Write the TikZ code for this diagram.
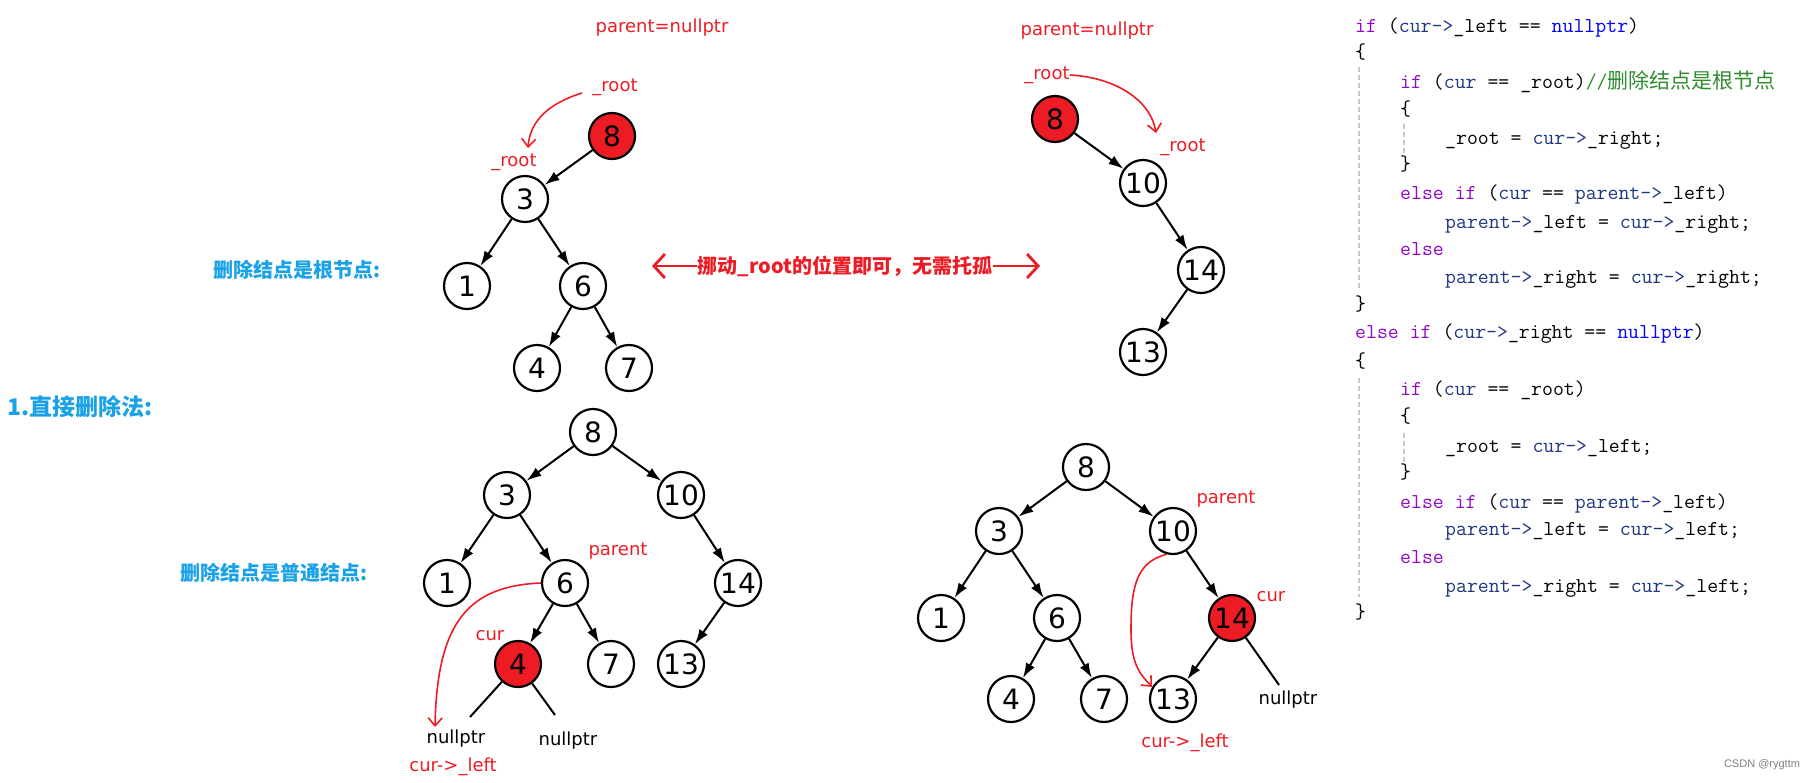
\documentclass[tikz,border=0pt]{standalone}
\usepackage{fontspec}
\setmainfont{DejaVu Sans}
\setsansfont{Liberation Sans}
\newfontfamily\cjk{Noto Sans CJK SC}
\usetikzlibrary{arrows.meta}
\definecolor{paintred}{HTML}{ED1C24}
\definecolor{paintblue}{HTML}{1AA1E6}
\definecolor{kwpurple}{HTML}{8F08C4}
\definecolor{varblue}{HTML}{1F377F}
\definecolor{cmtgreen}{HTML}{2E8B2E}
\definecolor{guidegray}{HTML}{C8C8C8}
\newcommand{\codekw}[1]{\textcolor{kwpurple}{#1}}
\newcommand{\codevar}[1]{\textcolor{varblue}{#1}}
\newcommand{\codenull}{\textcolor{blue}{nullptr}}
\newcommand{\codecmt}[1]{\textcolor{cmtgreen}{#1}}

\begin{document}
\begin{tikzpicture}
    [
        x=1pt, y=-1pt,
        tnode/.style={circle, draw, line width=2.2pt, minimum size=46pt, inner sep=0pt, fill=white, font=\fontsize{28}{28}\selectfont},
        delnode/.style={tnode, fill=paintred},
        tarrow/.style={line width=2pt, -{Latex[length=15pt,width=10pt]}},
        nullline/.style={line width=2pt},
        redlabel/.style={text=paintred, inner sep=0pt, font=\fontsize{18}{18}\selectfont},
        blacklabel/.style={inner sep=0pt, font=\fontsize{18}{18}\selectfont},
        bluetitle/.style={text=paintblue, inner sep=0pt, font=\fontsize{20}{20}\cjk\bfseries},
        movetext/.style={text=paintred, inner sep=1pt, font=\fontsize{20}{20}\cjk\bfseries},
        redcurve/.style={draw=paintred, line width=1.6pt, -{Straight Barb[length=8pt,width=14pt]}},
        movearrow/.style={draw=paintred, line width=2.8pt, -{Straight Barb[length=11pt,width=24pt]}},
        codeline/.style={anchor=west, inner sep=0pt, text height=14pt, text depth=4pt, font=\ttfamily\fontsize{21.2}{22}\selectfont},
        guide/.style={draw=guidegray, line width=1.4pt, dash pattern=on 5pt off 3pt}
    ]
        \useasboundingbox (0,0) rectangle (1814,782);

        \node[bluetitle, font=\fontsize{23}{23}\cjk\bfseries] (title) at (80,407) {1.直接删除法:};
        \node[bluetitle] (roottitle) at (297,270) {删除结点是根节点:};
        \node[bluetitle] (leaftitle) at (274,573) {删除结点是普通结点:};

        % root deleted, before
        \node[delnode] (a-8) at (612,136) {8};
        \node[tnode] (a-3) at (525,199) {3};
        \node[tnode] (a-1) at (467,286) {1};
        \node[tnode] (a-6) at (583,286) {6};
        \node[tnode] (a-4) at (537,368) {4};
        \node[tnode] (a-7) at (629,368) {7};
        \draw[tarrow] (a-8) -- (a-3);
        \draw[tarrow] (a-3) -- (a-1);
        \draw[tarrow] (a-3) -- (a-6);
        \draw[tarrow] (a-6) -- (a-4);
        \draw[tarrow] (a-6) -- (a-7);

        \node[redlabel] (a-parent) at (662,28) {parent=nullptr};
        \node[redlabel] (a-root1) at (615,87) {\_root};
        \node[redlabel] (a-root2) at (514,162) {\_root};
        \coordinate (a-from) at (582,93);
        \coordinate (a-to) at (528,148);
        \draw[redcurve] (a-from) .. controls (550,103) and (530,120) .. (a-to);

        % root deleted, other side
        \node[delnode] (b-8) at (1055,119) {8};
        \node[tnode] (b-10) at (1143,183) {10};
        \node[tnode] (b-14) at (1201,270) {14};
        \node[tnode] (b-13) at (1143,352) {13};
        \draw[tarrow] (b-8) -- (b-10);
        \draw[tarrow] (b-10) -- (b-14);
        \draw[tarrow] (b-14) -- (b-13);

        \node[redlabel] (b-parent) at (1087,31) {parent=nullptr};
        \node[redlabel] (b-root1) at (1047,75) {\_root};
        \node[redlabel] (b-root2) at (1183,147) {\_root};
        \coordinate (b-to) at (1156,133);
        \draw[redcurve] (b-root1.east) .. controls (1112,77) and (1150,98) .. (b-to);

        \node[movetext] (movetxt) at (845,266) {挪动\_root的位置即可，无需托孤};
        \coordinate (move-l) at (652,266);
        \coordinate (move-r) at (1040,266);
        \draw[movearrow] (movetxt.west) -- (move-l);
        \draw[movearrow] (movetxt.east) -- (move-r);

        % leaf deleted, left child
        \node[tnode] (c-8) at (593,432) {8};
        \node[tnode] (c-3) at (507,495) {3};
        \node[tnode] (c-10) at (681,495) {10};
        \node[tnode] (c-1) at (447,583) {1};
        \node[tnode] (c-6) at (565,583) {6};
        \node[tnode] (c-14) at (738,583) {14};
        \node[delnode] (c-4) at (518,664) {4};
        \node[tnode] (c-7) at (611,664) {7};
        \node[tnode] (c-13) at (681,664) {13};
        \draw[tarrow] (c-8) -- (c-3);
        \draw[tarrow] (c-8) -- (c-10);
        \draw[tarrow] (c-3) -- (c-1);
        \draw[tarrow] (c-3) -- (c-6);
        \draw[tarrow] (c-10) -- (c-14);
        \draw[tarrow] (c-6) -- (c-4);
        \draw[tarrow] (c-6) -- (c-7);
        \draw[tarrow] (c-14) -- (c-13);

        \coordinate (c-nl) at (470,717);
        \coordinate (c-nr) at (555,715);
        \draw[nullline] (c-4) -- (c-nl);
        \draw[nullline] (c-4) -- (c-nr);
        \node[redlabel] (c-parent) at (618,551) {parent};
        \node[redlabel] (c-cur) at (490,636) {cur};
        \node[blacklabel] (c-null1) at (456,739) {nullptr};
        \node[blacklabel] (c-null2) at (568,741) {nullptr};
        \node[redlabel] (c-left) at (453,767) {cur->\_left};
        \coordinate (c-to) at (435,727);
        \draw[redcurve] (c-6.west) .. controls (470,586) and (437,620) .. (c-to);

        % leaf deleted, right child
        \node[tnode] (d-8) at (1086,467) {8};
        \node[tnode] (d-3) at (999,531) {3};
        \node[tnode] (d-10) at (1173,531) {10};
        \node[tnode] (d-1) at (941,618) {1};
        \node[tnode] (d-6) at (1057,618) {6};
        \node[delnode] (d-14) at (1232,618) {14};
        \node[tnode] (d-4) at (1011,699) {4};
        \node[tnode] (d-7) at (1104,699) {7};
        \node[tnode] (d-13) at (1173,699) {13};
        \draw[tarrow] (d-8) -- (d-3);
        \draw[tarrow] (d-8) -- (d-10);
        \draw[tarrow] (d-3) -- (d-1);
        \draw[tarrow] (d-3) -- (d-6);
        \draw[tarrow] (d-6) -- (d-4);
        \draw[tarrow] (d-6) -- (d-7);
        \draw[tarrow] (d-10) -- (d-14);
        \draw[tarrow] (d-14) -- (d-13);

        \coordinate (d-nr) at (1279,685);
        \draw[nullline] (d-14) -- (d-nr);
        \node[redlabel] (d-parent) at (1226,499) {parent};
        \node[redlabel] (d-cur) at (1271,597) {cur};
        \node[blacklabel] (d-null) at (1288,700) {nullptr};
        \node[redlabel] (d-left) at (1185,743) {cur->\_left};
        \draw[redcurve] (d-10.-105) .. controls (1135,562) and (1131,590) .. (1131,630)
            .. controls (1131,665) and (1140,674) .. (d-13.150);

        % code
        \draw[guide] (1359,67) -- (1359,289);
        \draw[guide] (1404,124) -- (1404,155);
        \draw[guide] (1359,378) -- (1359,597);
        \draw[guide] (1404,433) -- (1404,462);

        \node[codeline] (l-1) at (1355,27) {\codekw{if} (\codevar{cur->}\_left == \codenull)};
        \node[codeline] (l-2) at (1355,53) {\{};
        \node[codeline] (l-3) at (1400,83) {\codekw{if} (\codevar{cur} == \_root)\codecmt{//{\fontsize{21}{20}\cjk 删除结点是根节点}}};
        \node[codeline] (l-4) at (1400,110) {\{};
        \node[codeline] (l-5) at (1445,139) {\_root = \codevar{cur->}\_right;};
        \node[codeline] (l-6) at (1400,165) {\}};
        \node[codeline] (l-7) at (1400,194) {\codekw{else if} (\codevar{cur} == \codevar{parent->}\_left)};
        \node[codeline] (l-8) at (1445,223) {\codevar{parent->}\_left = \codevar{cur->}\_right;};
        \node[codeline] (l-9) at (1400,250) {\codekw{else}};
        \node[codeline] (l-10) at (1445,278) {\codevar{parent->}\_right = \codevar{cur->}\_right;};
        \node[codeline] (l-11) at (1355,305) {\}};
        \node[codeline] (l-12) at (1355,333) {\codekw{else if} (\codevar{cur->}\_right == \codenull)};
        \node[codeline] (l-13) at (1355,362) {\{};
        \node[codeline] (l-14) at (1400,390) {\codekw{if} (\codevar{cur} == \_root)};
        \node[codeline] (l-15) at (1400,417) {\{};
        \node[codeline] (l-16) at (1445,447) {\_root = \codevar{cur->}\_left;};
        \node[codeline] (l-17) at (1400,473) {\}};
        \node[codeline] (l-18) at (1400,503) {\codekw{else if} (\codevar{cur} == \codevar{parent->}\_left)};
        \node[codeline] (l-19) at (1445,530) {\codevar{parent->}\_left = \codevar{cur->}\_left;};
        \node[codeline] (l-20) at (1400,558) {\codekw{else}};
        \node[codeline] (l-21) at (1445,587) {\codevar{parent->}\_right = \codevar{cur->}\_left;};
        \node[codeline] (l-22) at (1355,613) {\}};

        \node[text=gray, inner sep=0pt, font=\sffamily\fontsize{11}{11}\selectfont] (mark) at (1762,765) {CSDN @rygttm};
    \end{tikzpicture}
\end{document}
